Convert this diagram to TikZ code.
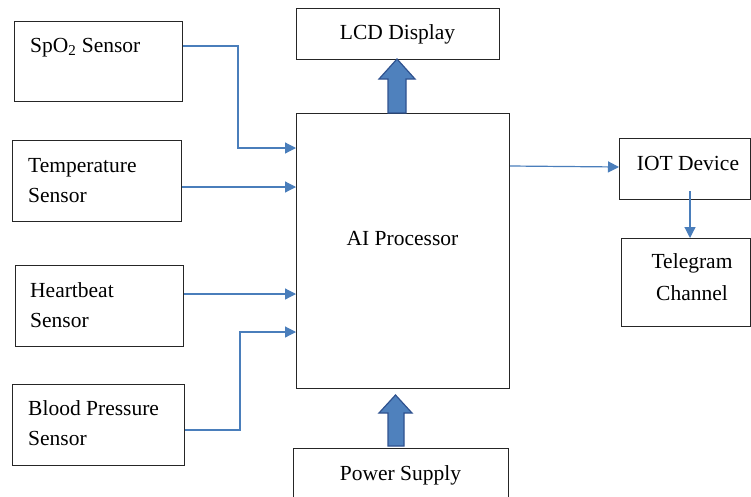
\documentclass[tikz,border=0pt]{standalone}
\usepackage{fontspec}
\setmainfont{Liberation Serif}
\usetikzlibrary{arrows.meta}
\definecolor{lineblue}{HTML}{4A7EBB}
\definecolor{arrowfill}{HTML}{4F81BD}
\definecolor{arrowedge}{HTML}{2F528F}
\tikzset{
  box/.style={draw=black!85, line width=1.2pt, inner sep=0pt, anchor=north west},
  lbl/.style={font=\fontsize{21.5}{30}\selectfont, inner sep=0pt},
  conn/.style={draw=lineblue, line width=1.2pt, -{Triangle[length=11pt,width=11pt]}},
  blockarrow/.style={fill=arrowfill, draw=arrowedge, line width=1.2pt, line join=miter}
}
\begin{document}
\begin{tikzpicture}[x=1pt,y=-1pt]
\useasboundingbox (0,0) rectangle (751,496);
\clip (0,0) rectangle (751,496);
% boxes
\node[box, minimum width=168pt, minimum height=80pt] (spo2) at (14,21) {};
\node[box, minimum width=169pt, minimum height=81pt] (temp) at (12,140) {};
\node[box, minimum width=168pt, minimum height=81pt] (heart) at (15,265) {};
\node[box, minimum width=172pt, minimum height=81pt] (bp) at (12,384) {};
\node[box, minimum width=203pt, minimum height=51pt] (lcd) at (296,8) {};
\node[box, minimum width=213pt, minimum height=275pt] (ai) at (296,113) {};
\node[box, minimum width=215pt, minimum height=60pt] (power) at (293,448) {};
\node[box, minimum width=131pt, minimum height=61pt] (iot) at (619,138) {};
\node[box, minimum width=129pt, minimum height=88pt] (tele) at (621,238) {};
% texts
\node[lbl, anchor=base west] (spo2t) at (30,52) {SpO\textsubscript{2} Sensor};
\node[lbl, anchor=base west] (tempt1) at (28,172) {Temperature};
\node[lbl, anchor=base west] (tempt2) at (28,202) {Sensor};
\node[lbl, anchor=base west] (heartt1) at (30,297) {Heartbeat};
\node[lbl, anchor=base west] (heartt2) at (30,327) {Sensor};
\node[lbl, anchor=base west] (bpt1) at (28,415) {Blood Pressure};
\node[lbl, anchor=base west] (bpt2) at (28,445) {Sensor};
\node[lbl, anchor=base] (lcdt) at (397.5,39) {LCD Display};
\node[lbl, anchor=base] (ait) at (402.5,245) {AI Processor};
\node[lbl, anchor=base] (powert) at (400.5,480) {Power Supply};
\node[lbl, anchor=base] (iott) at (688,170) {IOT Device};
\node[lbl, anchor=base] (telet1) at (692,268) {Telegram};
\node[lbl, anchor=base] (telet2) at (692,300) {Channel};
% connectors
\coordinate (spo2o) at (spo2.east |- 0,46);
\coordinate (aiin1) at (ai.west |- 0,148);
\draw[conn] (spo2o) -- (238,46) -- (238,148) -- (aiin1);
\coordinate (tempo) at (temp.east |- 0,187);
\draw[conn] (tempo) -- (ai.west |- tempo);
\coordinate (hearto) at (heart.east |- 0,294);
\draw[conn] (hearto) -- (ai.west |- hearto);
\coordinate (bpo) at (bp.east |- 0,430);
\coordinate (aiin4) at (ai.west |- 0,332);
\draw[conn] (bpo) -- (240,430) -- (240,332) -- (aiin4);
\coordinate (aiout) at (ai.east |- 0,166);
\draw[conn] (aiout) -- (iot.west |- 0,167);
\coordinate (iotout) at (690,191);
\draw[conn] (iotout) -- (tele.north -| iotout);
% block arrows
\draw[blockarrow] (388,113) -- (388,79) -- (379,79) -- (397,59) -- (415,79) -- (406,79) -- (406,113) -- cycle;
\draw[blockarrow] (388,446) -- (388,413) -- (379,413) -- (395.5,395) -- (412,413) -- (404,413) -- (404,446) -- cycle;
\end{tikzpicture}
\end{document}
